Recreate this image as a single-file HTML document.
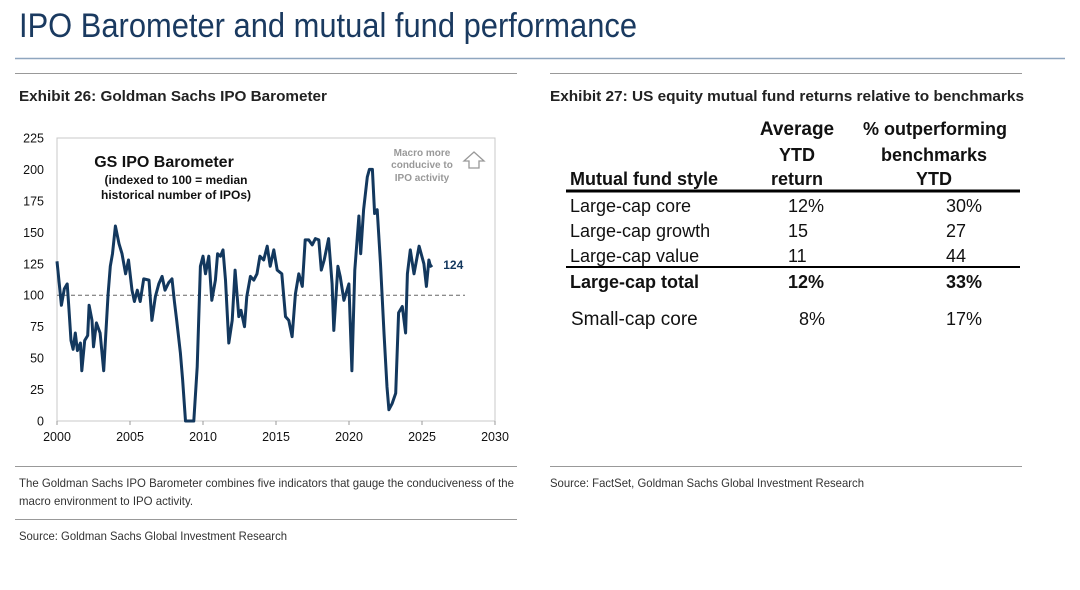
<!DOCTYPE html>
<html><head><meta charset="utf-8"><style>
html,body{margin:0;padding:0;background:#fff;width:1080px;height:590px;overflow:hidden}
svg{display:block;font-family:"Liberation Sans",Arial,sans-serif}
</style></head><body>
<svg id="page" width="1080" height="590" viewBox="0 0 1080 590">
<text x="19" y="37" font-size="34" fill="#1a3a60" textLength="618" lengthAdjust="spacingAndGlyphs">IPO Barometer and mutual fund performance</text>
<line x1="15" y1="58.5" x2="1065" y2="58.5" stroke="#8fa6bf" stroke-width="1.5"/>
<line x1="15" y1="73.5" x2="517" y2="73.5" stroke="#999"/>
<line x1="550" y1="73.5" x2="1022" y2="73.5" stroke="#999"/>
<text x="19" y="101" font-size="15" font-weight="bold" fill="#222" textLength="308" lengthAdjust="spacingAndGlyphs">Exhibit 26: Goldman Sachs IPO Barometer</text>
<text x="550" y="101" font-size="15" font-weight="bold" fill="#222" textLength="474" lengthAdjust="spacingAndGlyphs">Exhibit 27: US equity mutual fund returns relative to benchmarks</text>

<g id="chart">
<rect x="57" y="138" width="438" height="283" fill="none" stroke="#c8c8c8"/>
<g id="yticks"></g><g id="xticks"></g>
<line id="ref" stroke="#666" stroke-dasharray="4,3" stroke-width="1"/>
<path id="series" fill="none" stroke="#13385e" stroke-width="3" stroke-linejoin="round"/>
<text x="164" y="167" font-size="16" font-weight="bold" text-anchor="middle" fill="#111">GS IPO Barometer</text>
<text x="176" y="184" font-size="12" font-weight="bold" text-anchor="middle" fill="#111">(indexed to 100 = median</text>
<text x="176" y="199" font-size="12" font-weight="bold" text-anchor="middle" fill="#111">historical number of IPOs)</text>
<text x="422" y="156" font-size="10" font-weight="bold" text-anchor="middle" fill="#999">Macro more</text>
<text x="422" y="168" font-size="10" font-weight="bold" text-anchor="middle" fill="#999">conducive to</text>
<text x="422" y="181" font-size="10" font-weight="bold" text-anchor="middle" fill="#999">IPO activity</text>
<path d="M474 152 L484 161 L479 161 L479 168 L469 168 L469 161 L464 161 Z" fill="none" stroke="#999" stroke-width="1.3"/>
<text id="lastlbl" font-size="12" font-weight="bold" fill="#13385e"></text>
</g>

<line x1="15" y1="466.5" x2="517" y2="466.5" stroke="#999"/>
<line x1="550" y1="466.5" x2="1022" y2="466.5" stroke="#999"/>
<text x="19" y="487" font-size="12" fill="#333" textLength="495" lengthAdjust="spacingAndGlyphs">The Goldman Sachs IPO Barometer combines five indicators that gauge the conduciveness of the</text>
<text x="19" y="505" font-size="12" fill="#333" textLength="174" lengthAdjust="spacingAndGlyphs">macro environment to IPO activity.</text>
<line x1="15" y1="519.5" x2="517" y2="519.5" stroke="#999"/>
<text x="19" y="540" font-size="12" fill="#333" textLength="268" lengthAdjust="spacingAndGlyphs">Source: Goldman Sachs Global Investment Research</text>
<text x="550" y="487" font-size="12" fill="#333" textLength="314" lengthAdjust="spacingAndGlyphs">Source: FactSet, Goldman Sachs Global Investment Research</text>

<g font-size="18" fill="#111">
<text x="797" y="135" font-weight="bold" font-size="19" text-anchor="middle">Average</text>
<text x="797" y="161" font-weight="bold" text-anchor="middle">YTD</text>
<text x="797" y="185" font-weight="bold" text-anchor="middle">return</text>
<text x="935" y="135" font-weight="bold" text-anchor="middle">% outperforming</text>
<text x="934" y="161" font-weight="bold" text-anchor="middle">benchmarks</text>
<text x="934" y="185" font-weight="bold" text-anchor="middle">YTD</text>
<text x="570" y="185" font-weight="bold">Mutual fund style</text>
<line x1="566" y1="191" x2="1020" y2="191" stroke="#000" stroke-width="3"/>
<text x="570" y="212">Large-cap core</text><text x="788" y="212">12%</text><text x="946" y="212">30%</text>
<text x="570" y="237">Large-cap growth</text><text x="788" y="237">15</text><text x="946" y="237">27</text>
<text x="570" y="262">Large-cap value</text><text x="788" y="262">11</text><text x="946" y="262">44</text>
<line x1="566" y1="267" x2="1020" y2="267" stroke="#000" stroke-width="2"/>
<text x="570" y="288" font-weight="bold">Large-cap total</text><text x="788" y="288" font-weight="bold">12%</text><text x="946" y="288" font-weight="bold">33%</text>
<text x="571" y="325" font-size="19">Small-cap core</text><text x="799" y="325">8%</text><text x="946" y="325">17%</text>
</g>
</svg>
<script>
const years=[2000,2000.2,2000.3,2000.5,2000.7,2000.8,2000.96,2001.1,2001.25,2001.4,2001.6,2001.7,2001.9,2002.1,2002.2,2002.4,2002.5,2002.7,2002.95,2003.2,2003.5,2003.65,2003.8,2004,2004.25,2004.45,2004.7,2004.9,2005.14,2005.3,2005.5,2005.7,2005.94,2006.3,2006.5,2006.74,2006.97,2007.2,2007.4,2007.65,2007.88,2008.04,2008.2,2008.45,2008.6,2008.8,2009.37,2009.6,2009.82,2010,2010.17,2010.4,2010.6,2010.85,2011,2011.2,2011.37,2011.54,2011.77,2012,2012.2,2012.45,2012.6,2012.84,2013,2013.25,2013.48,2013.7,2013.9,2014.16,2014.4,2014.6,2014.85,2015.08,2015.4,2015.65,2015.88,2016.1,2016.33,2016.56,2016.8,2017,2017.24,2017.48,2017.7,2017.93,2018.1,2018.3,2018.6,2018.84,2018.96,2019.24,2019.4,2019.65,2019.99,2020.2,2020.4,2020.68,2020.8,2021,2021.25,2021.4,2021.6,2021.75,2021.93,2022.16,2022.4,2022.6,2022.73,2022.96,2023.2,2023.4,2023.65,2023.88,2024,2024.2,2024.45,2024.8,2025.13,2025.3,2025.47,2025.58,2025.7];
const values=[127,104,92,105,109,92,64,57,70,56,62,40,64,68,92,80,59,78,70,40,101,123,133,155,141,133,117,128,104,95,104,95,113,112,80,99,109,115,104,110,113,95,80,54,33,0,0,43,123,131,117,131,96,112,133,131,136,112,62,80,120,83,88,75,99,115,112,117,131,128,139,123,136,120,117,83,80,67,101,117,107,144,144,140,145,144,120,128,145,109,72,123,115,96,109,40,120,163,133,168,194,200,200,165,168,125,70,27,9,14,22,86,91,70,117,136,117,139,125,107,128,123,124];
const yTicks=[0,25,50,75,100,125,150,175,200,225];
const xTicks=[2000,2005,2010,2015,2020,2025,2030];
const refValue=100;
const lastLabel="124";
const X=y=>57+(y-2000)*(438/30);
const Y=v=>421-v*(283/225);
const NS="http://www.w3.org/2000/svg";
const yt=document.getElementById('yticks'),xt=document.getElementById('xticks');
yTicks.forEach(v=>{const t=document.createElementNS(NS,'text');
t.setAttribute('x',44);t.setAttribute('y',Y(v)+4.5);t.setAttribute('font-size','12.5');t.setAttribute('text-anchor','end');t.setAttribute('fill','#111');t.textContent=v;


yt.appendChild(t);});
xTicks.forEach(v=>{const t=document.createElementNS(NS,'text');
t.setAttribute('x',X(v));t.setAttribute('y',441);t.setAttribute('font-size','12.5');t.setAttribute('text-anchor','middle');t.setAttribute('fill','#111');t.textContent=v;


xt.appendChild(t);
const l=document.createElementNS(NS,'line');l.setAttribute('x1',X(v));l.setAttribute('x2',X(v));l.setAttribute('y1',421);l.setAttribute('y2',425);l.setAttribute('stroke','#999');


xt.appendChild(l);});
const r=document.getElementById('ref');r.setAttribute('x1',57);r.setAttribute('x2',465);r.setAttribute('y1',Y(refValue));r.setAttribute('y2',Y(refValue));
document.getElementById('series').setAttribute('d',years.map((y,i)=>(i?'L':'M')+X(y).toFixed(1)+' '+Y(values[i]).toFixed(1)).join(' '));
const ll=document.getElementById('lastlbl');const n=years.length-1;
ll.setAttribute('x',X(years[n])+11);ll.setAttribute('y',Y(values[n])+4);ll.textContent=lastLabel;
</script>
</body></html>
